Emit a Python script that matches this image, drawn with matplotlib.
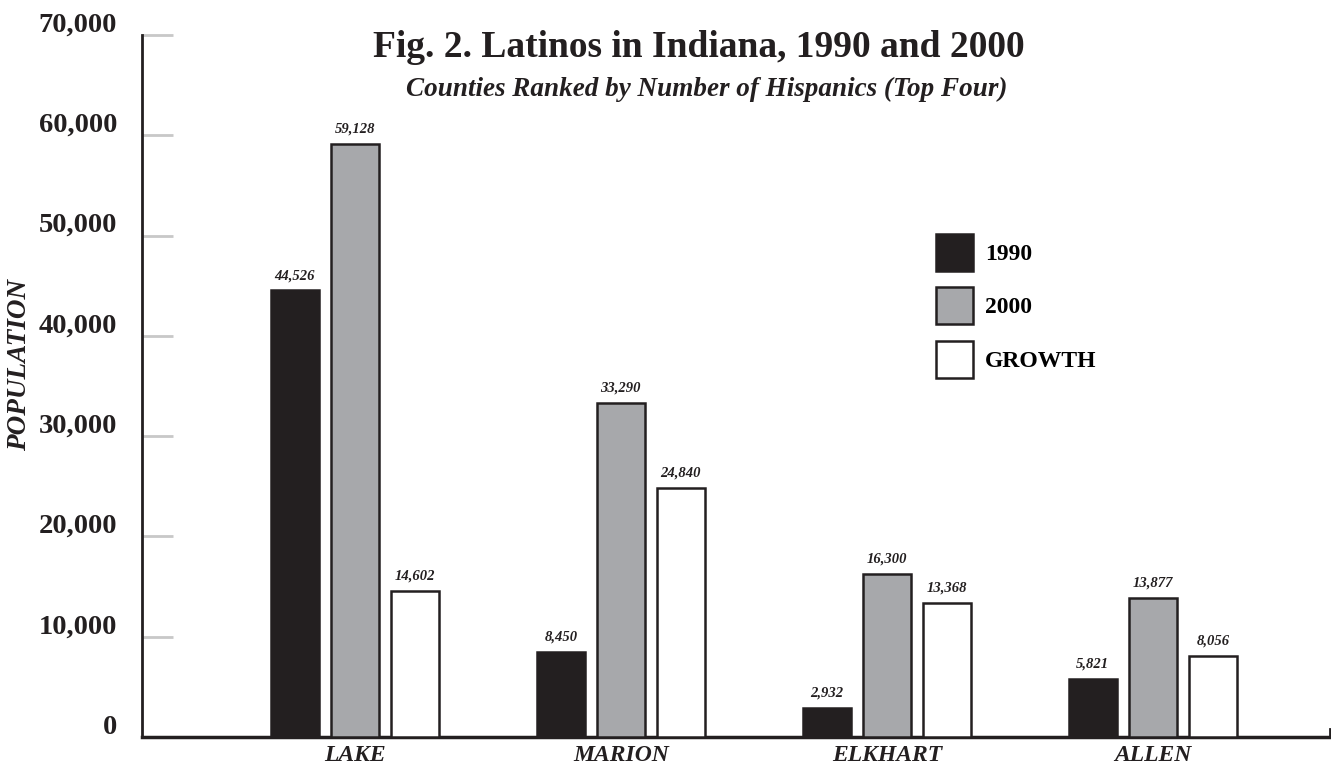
import matplotlib
matplotlib.use("Agg")
import matplotlib.pyplot as plt
from matplotlib.patches import Patch
from matplotlib.transforms import ScaledTranslation
import numpy as np

counties = ["LAKE", "MARION", "ELKHART", "ALLEN"]
pop_1990 = [44526, 8450, 2932, 5821]
pop_2000 = [59128, 33290, 16300, 13877]
growth = [14602, 24840, 13368, 8056]
series_names = ["1990", "2000", "GROWTH"]
y_ticks = [0, 10000, 20000, 30000, 40000, 50000, 60000, 70000]

dark = "#231f20"
gray = "#a7a8ab"
fills = [dark, gray, "white"]
serif = ["Liberation Serif", "DejaVu Serif"]

plt.rcParams["font.family"] = serif

fig = plt.figure(figsize=(13.31, 7.65), dpi=100)
ax = fig.add_axes([142 / 1331, 1 - 737 / 765, (1330 - 142) / 1331, (737 - 35) / 765])

x = np.arange(len(counties))
step = 0.2256
width = 0.182
for i, (vals, col) in enumerate(zip([pop_1990, pop_2000, growth], fills)):
    bars = ax.bar(x + (i - 1) * step, vals, width, color=col, edgecolor=dark,
                  linewidth=1.8, zorder=3)
    for b, v in zip(bars, vals):
        ax.annotate(f"{v:,}", (b.get_x() + b.get_width() / 2, v),
                    xytext=(0, 6), textcoords="offset points",
                    ha="center", va="bottom", fontsize=10.5,
                    fontweight="bold", fontstyle="italic", color=dark)

ax.set_xlim(-0.80, 3.666)
ax.set_ylim(0, 70000)

ax.set_yticks(y_ticks)
ax.set_yticklabels([f"{t:,}" for t in y_ticks], fontsize=20.5, fontweight="bold", color=dark)
ax.tick_params(axis="y", direction="in", length=22, width=2, color="#c8c8c8", pad=18)
shift = ScaledTranslation(0, 0.13, fig.dpi_scale_trans)
for lab in ax.get_yticklabels():
    lab.set_transform(lab.get_transform() + shift)

ax.set_xticks(x)
ax.set_xticklabels(counties, fontsize=17, fontweight="bold", fontstyle="italic", color=dark)
ax.tick_params(axis="x", length=0, pad=6)

ax.spines["top"].set_visible(False)
ax.spines["left"].set_linewidth(2)
ax.spines["left"].set_color(dark)
ax.spines["bottom"].set_linewidth(2.5)
ax.spines["bottom"].set_color(dark)
ax.spines["right"].set_bounds(0, 800)
ax.spines["right"].set_linewidth(2)
ax.spines["right"].set_color(dark)

fig.text(699 / 1331, 1 - 57 / 765, "Fig. 2. Latinos in Indiana, 1990 and 2000",
         ha="center", va="baseline", fontsize=27, fontweight="bold", color=dark)
fig.text(707 / 1331, 1 - 96 / 765, "Counties Ranked by Number of Hispanics (Top Four)",
         ha="center", va="baseline", fontsize=19.5, fontweight="bold", fontstyle="italic",
         color=dark)
fig.text(20 / 1331, 1 - 365 / 765, "POPULATION", rotation=90, ha="center", va="center",
         fontsize=19.5, fontweight="bold", fontstyle="italic", color=dark)

handles = [Patch(facecolor=c, edgecolor=dark, linewidth=1.8) for c in fills]
ax.legend(handles, series_names, loc="upper left",
          bbox_to_anchor=(936 / 1331, 1 - 234 / 765), bbox_transform=fig.transFigure,
          frameon=False, borderpad=0, borderaxespad=0,
          handlelength=1.57, handleheight=2.035, handletextpad=0.5, labelspacing=0.69,
          prop={"family": serif, "weight": "bold", "size": 17})

fig.savefig("out.png", dpi=100)
